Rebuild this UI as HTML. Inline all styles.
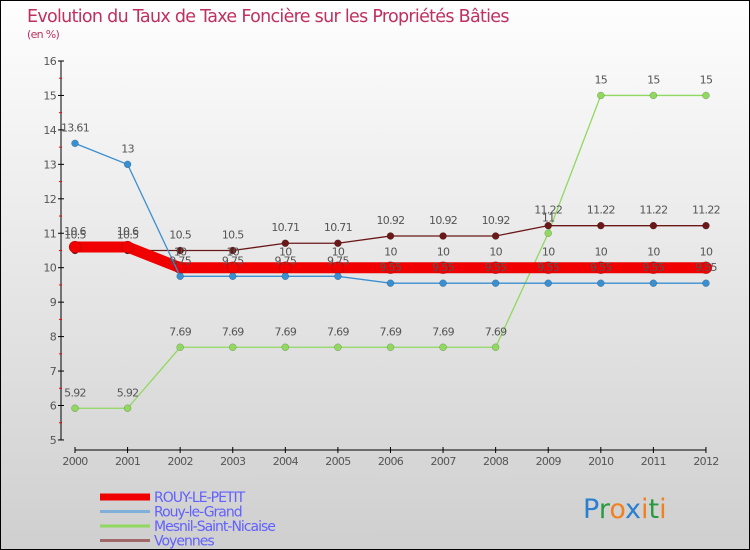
<!DOCTYPE html>
<html><head><meta charset="utf-8"><style>
body{margin:0}
#c{width:750px;height:550px;position:relative;box-sizing:border-box;border:1px solid #000;background:linear-gradient(#fefefe,#cfcfcf);font-family:"DejaVu Sans","Liberation Sans",sans-serif;overflow:hidden}
</style></head><body>
<div id="c">
<svg id="s" width="750" height="550" style="position:absolute;left:-1px;top:-1px"></svg>
</div>
<script>
const years=["2000","2001","2002","2003","2004","2005","2006","2007","2008","2009","2010","2011","2012"];
const yTicks=[5,6,7,8,9,10,11,12,13,14,15,16];
const seriesNames=["ROUY-LE-PETIT","Rouy-le-Grand","Mesnil-Saint-Nicaise","Voyennes"];
const petit=[10.6,10.6,10,10,10,10,10,10,10,10,10,10,10];
const grand=[13.61,13,9.75,9.75,9.75,9.75,9.55,9.55,9.55,9.55,9.55,9.55,9.55];
const mesnil=[5.92,5.92,7.69,7.69,7.69,7.69,7.69,7.69,7.69,11,15,15,15];
const voy=[10.5,10.5,10.5,10.5,10.71,10.71,10.92,10.92,10.92,11.22,11.22,11.22,11.22];
const s=document.getElementById('s');const NS="http://www.w3.org/2000/svg";
function el(t,a,p){const e=document.createElementNS(NS,t);for(const k in a)e.setAttribute(k,a[k]);(p||s).appendChild(e);return e;}
const X=i=>75+i*52.58, Y=v=>61+(16-v)*34.45;
function txt(x,y,str,o){const t=el('text',Object.assign({x:x,y:y,'font-size':11,fill:'#555','text-anchor':'middle','letter-spacing':'-0.7'},o||{}));t.textContent=str;return t;}
let t=txt(27,22,"Evolution du Taux de Taxe Foncière sur les Propriétés Bâties",{'font-size':17.5,fill:'#c0305f','text-anchor':'start','letter-spacing':'-0.7'});


t=txt(27,38,"(en %)",{'font-size':11,fill:'#c0305f','text-anchor':'start'});


let a=el('line',{x1:61,y1:Y(16),x2:61,y2:Y(5),stroke:'#000'});


yTicks.forEach(v=>{el('line',{x1:58,y1:Y(v),x2:64,y2:Y(v),stroke:'#000'});
 if(v<16)el('line',{x1:59,y1:Y(v+0.5),x2:62,y2:Y(v+0.5),stroke:'#f00'});
 const l=txt(56,Y(v)+4,String(v),{'text-anchor':'end'});
 
 });
a=el('line',{x1:75,y1:450,x2:706,y2:450,stroke:'#000'});


years.forEach((y,i)=>{el('line',{x1:X(i),y1:447,x2:X(i),y2:453,stroke:'#000'});
 const l=txt(X(i),465,y);
 
 });
function series(data,color,w,r,name){
 const g=el('g',{});
 
 
 el('polyline',{points:data.map((v,i)=>X(i)+','+Y(v)).join(' '),fill:'none',stroke:color,'stroke-width':w},g);
 data.forEach((v,i)=>{const c=el('circle',{cx:X(i),cy:Y(v),r:r,fill:color,stroke:'rgba(0,0,0,0.3)','stroke-width':0.5},g);
  
  });
 return g;}
series(mesnil,'#90d860',1.3,3.5,'mesnil-series');
series(voy,'#6b1818',1.3,3.5,'voyennes-series');
series(petit,'#f00000',11,6,'rouy-le-petit-series');
series(grand,'#3a8fd0',1.3,3.5,'rouy-le-grand-series');
function labels(data,off){data.forEach((v,i)=>{const l=txt(X(i),Y(v)+off,String(v));
 
 });}
labels(mesnil,-12);labels(voy,-12);labels(petit,-12);labels(grand,-12);
const lc=['#f00000','#80b0d8','#90d860','#a06868'],lw=[7,3,3,3];
seriesNames.forEach((n,i)=>{const y=497+i*14.5;
 const g=el('g',{});
 
 
 el('line',{x1:100,y1:y,x2:150,y2:y,stroke:lc[i],'stroke-width':lw[i]},g);
 const l=el('text',{x:154,y:y+5,'font-size':14,fill:'#6060ff','letter-spacing':'-1'},g);
 l.textContent=n;});
const lg=el('text',{x:583,y:518,'font-size':27,'font-family':'"DejaVu Sans",sans-serif','letter-spacing':'0'});


[['P','#2a7fd0'],['r','#2a9a40'],['o','#f08020'],['x','#2a7fd0'],['i','#f08020'],['t','#2a9a40'],['i','#f08020']].forEach(([c,f])=>{const sp=el('tspan',{fill:f},lg);sp.textContent=c;});
</script>
</body></html>
